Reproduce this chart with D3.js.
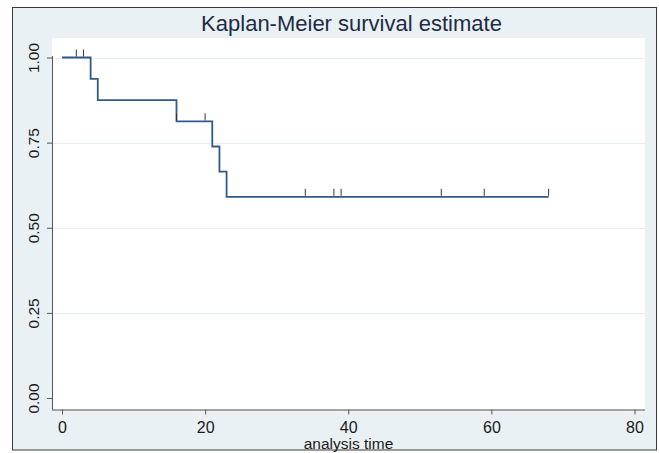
<!DOCTYPE html>
<html>
<head>
<meta charset="utf-8">
<script src="https://cdn.jsdelivr.net/npm/d3@7"></script>
<style>
  html, body { margin: 0; padding: 0; background: #ffffff; }
  svg { display: block; }
  text { font-family: "Liberation Sans", Arial, sans-serif; }
</style>
</head>
<body>
<svg id="chart" width="659" height="453"></svg>
<script>
// ---- data ----
const titleText = "Kaplan-Meier survival estimate";
const xTitle = "analysis time";
const eventTimes = [0, 4, 5, 16, 21, 22, 23];
const survival = [1.0, 0.9375, 0.875, 0.8125, 0.7386, 0.6648, 0.5909];
const endTime = 68;
const censorTimes = [2, 3, 16, 20, 34, 38, 39, 53, 59, 68];
const xTicks = [0, 20, 40, 60, 80];
const yTicks = [0, 0.25, 0.5, 0.75, 1.0];

// ---- layout ----
const svg = d3.select("#chart");
const frame = { x: 12.5, y: 7.5, w: 644, h: 442.5 };
const plot = { left: 52, right: 645, top: 38, bottom: 409.5 };

const x = d3.scaleLinear().domain([0, 80]).range([62, 634.5]);
const y = d3.scaleLinear().domain([0, 1]).range([398, 57.5]);

// graph region
svg.append("rect")
  .attr("x", frame.x).attr("y", frame.y)
  .attr("width", frame.w).attr("height", frame.h)
  .attr("fill", "#eaf1f4").attr("stroke", "#3a3a3a").attr("stroke-width", 1);

// plot region
svg.append("rect")
  .attr("x", plot.left).attr("y", plot.top)
  .attr("width", plot.right - plot.left).attr("height", plot.bottom - plot.top)
  .attr("fill", "#ffffff");

// grid lines
svg.append("g").selectAll("line")
  .data(yTicks.filter(d => d > 0))
  .join("line")
  .attr("x1", plot.left).attr("x2", plot.right)
  .attr("y1", d => Math.round(y(d)) + 0.5).attr("y2", d => Math.round(y(d)) + 0.5)
  .attr("stroke", "#e3edf2").attr("stroke-width", 1.2);

// y axis
const yAxis = d3.axisLeft(y).tickValues(yTicks).tickFormat(d3.format(".2f")).tickSize(5).tickPadding(0);
const gy = svg.append("g").attr("transform", `translate(${plot.left},0)`).call(yAxis);
gy.select(".domain").attr("d", `M0.5,${plot.top + 18}V${plot.bottom}`).attr("stroke", "#555");
gy.selectAll(".tick line").attr("stroke", "#555");
gy.selectAll(".tick text")
  .attr("font-size", 15.5).attr("fill", "#1a1a1a")
  .attr("text-anchor", "middle")
  .attr("x", 0).attr("dy", 0)
  .attr("transform", "translate(-13,0) rotate(-90)");

// x axis
const xAxis = d3.axisBottom(x).tickValues(xTicks).tickFormat(d3.format("d")).tickSize(5).tickPadding(7);
const gx = svg.append("g").attr("transform", `translate(0,${plot.bottom})`).call(xAxis);
gx.select(".domain").attr("d", `M${plot.left},0.5H${plot.right}`).attr("stroke", "#555");
gx.selectAll(".tick line").attr("stroke", "#555");
gx.selectAll(".tick text").attr("font-size", 16).attr("fill", "#1a1a1a").attr("dy", "0.72em");

// axis title
svg.append("text")
  .attr("x", (plot.left + plot.right) / 2).attr("y", 449)
  .attr("text-anchor", "middle").attr("font-size", 15.5).attr("fill", "#1a1a1a")
  .text(xTitle);

// title
svg.append("text")
  .attr("x", (plot.left + plot.right) / 2 + 3).attr("y", 31)
  .attr("text-anchor", "middle").attr("font-size", 22).attr("fill", "#1e2b45")
  .text(titleText);

// KM step line
const pts = eventTimes.map((t, i) => [t, survival[i]]);
pts.push([endTime, survival[survival.length - 1]]);
const line = d3.line().x(d => x(d[0])).y(d => y(d[1])).curve(d3.curveStepAfter);
svg.append("path")
  .datum(pts)
  .attr("d", line)
  .attr("fill", "none").attr("stroke", "#2f5b8a").attr("stroke-width", 1.8);

// survival at a time
function survAt(t) {
  let s = 1;
  eventTimes.forEach((et, i) => { if (et <= t) s = survival[i]; });
  return s;
}
svg.append("g").selectAll("line")
  .data(censorTimes)
  .join("line")
  .attr("x1", d => x(d)).attr("x2", d => x(d))
  .attr("y1", d => y(survAt(d)) - 1)
  .attr("y2", d => y(survAt(d)) - 8)
  .attr("stroke", "#333").attr("stroke-width", 1);
</script>
</body>
</html>
